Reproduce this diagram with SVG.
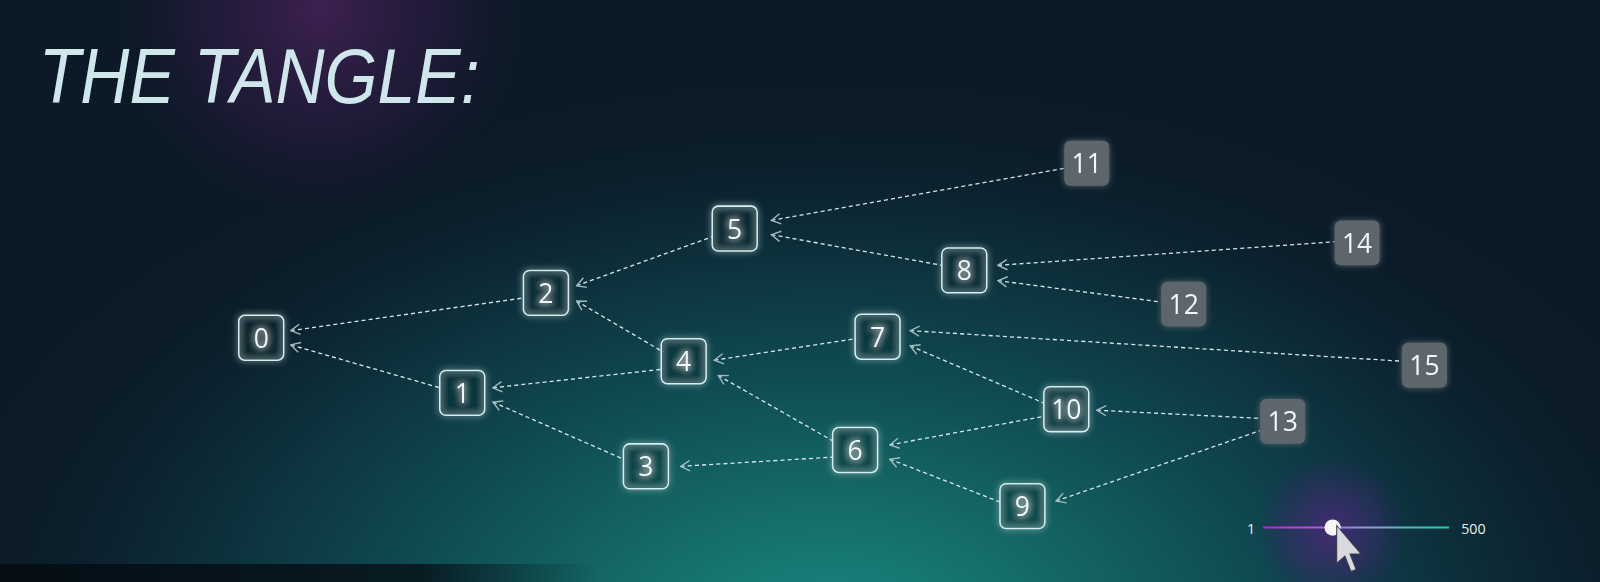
<svg xmlns="http://www.w3.org/2000/svg" width="1600" height="582" viewBox="0 0 1600 582">
<defs>
<radialGradient id="teal" cx="830" cy="640" r="900" gradientUnits="userSpaceOnUse" gradientTransform="translate(830 640) scale(1 0.62) translate(-830 -640)">
<stop offset="0" stop-color="#1b8a82"/>
<stop offset="0.25" stop-color="#146a66"/>
<stop offset="0.5" stop-color="#0f4850"/>
<stop offset="0.75" stop-color="#0c2a36"/>
<stop offset="1" stop-color="#0b1b28" stop-opacity="0"/>
</radialGradient>
<radialGradient id="purple" cx="320" cy="10" r="210" gradientUnits="userSpaceOnUse">
<stop offset="0" stop-color="#3f2152" stop-opacity="0.95"/>
<stop offset="0.6" stop-color="#2a1a40" stop-opacity="0.6"/>
<stop offset="1" stop-color="#1a1530" stop-opacity="0"/>
</radialGradient>
<radialGradient id="knobglow" cx="1306" cy="520" r="75" gradientUnits="userSpaceOnUse">
<stop offset="0" stop-color="#4a2a7a" stop-opacity="0.9"/>
<stop offset="0.6" stop-color="#3a2a6a" stop-opacity="0.5"/>
<stop offset="1" stop-color="#302060" stop-opacity="0"/>
</radialGradient>
<linearGradient id="slider" x1="1238" y1="0" x2="1420" y2="0" gradientUnits="userSpaceOnUse">
<stop offset="0" stop-color="#c21fd6"/>
<stop offset="0.35" stop-color="#a070d0"/>
<stop offset="0.6" stop-color="#8aa0d8"/>
<stop offset="1" stop-color="#1fd0a0"/>
</linearGradient>
<linearGradient id="bar" x1="0" y1="0" x2="600" y2="0" gradientUnits="userSpaceOnUse">
<stop offset="0" stop-color="#050d14"/>
<stop offset="0.7" stop-color="#07161e" stop-opacity="0.9"/>
<stop offset="1" stop-color="#0a2a30" stop-opacity="0"/>
</linearGradient>
<filter id="glow" x="-50%" y="-50%" width="200%" height="200%">
<feGaussianBlur stdDeviation="3" result="b"/>
<feMerge><feMergeNode in="b"/><feMergeNode in="SourceGraphic"/></feMerge>
</filter>
<marker id="arr" viewBox="0 0 12 12" refX="1" refY="6" markerWidth="12" markerHeight="12" markerUnits="userSpaceOnUse" orient="auto">
<path d="M10 1 L1 6 L10 11" fill="none" stroke="#9fb8bc" stroke-width="1.4"/>
</marker>
<style>
.edge{fill:none;stroke:#d4e6e8;stroke-width:1.3;stroke-dasharray:4 3;marker-start:url(#arr)}
.box{fill:#0d2a33;fill-opacity:0.25;stroke:#d6eef0;stroke-width:1.5}
.gbox{fill:#5d666d}
.lbl{font-family:"Open Sans","Noto Sans",sans-serif;font-size:26px;fill:#f2f7f8;text-anchor:middle;dominant-baseline:central}
.sl{font-family:"Open Sans","Noto Sans",sans-serif;font-size:14px;fill:#e6eef0}
</style>
</defs>
<rect width="1600" height="582" fill="#0b1a26"/>
<rect width="1600" height="582" fill="url(#teal)"/>
<rect width="1600" height="582" fill="url(#purple)"/>
<rect x="0" y="564" width="610" height="18" fill="url(#bar)"/>
<g transform="scale(1.0204)">
<text x="38" y="101" font-family="'Liberation Sans',Arial,sans-serif" font-style="italic" font-size="76" fill="#cfe6ea" textLength="432" lengthAdjust="spacingAndGlyphs">THE TANGLE:</text>

<g id="connectors">
<path class="edge" d="M285 324 L513 292"/>
<path class="edge" d="M285 338 L431 380"/>
<path class="edge" d="M565 280 L698 232"/>
<path class="edge" d="M565 295 L650 345"/>
<path class="edge" d="M483 380 L648 362"/>
<path class="edge" d="M483 394 L611 450"/>
<path class="edge" d="M756 216 L1043 165"/>
<path class="edge" d="M756 230 L923 260"/>
<path class="edge" d="M978 260 L1308 237"/>
<path class="edge" d="M978 275 L1138 296"/>
<path class="edge" d="M700 353 L838 332"/>
<path class="edge" d="M704 368 L816 432"/>
<path class="edge" d="M892 324 L1374 354"/>
<path class="edge" d="M892 339 L1023 395"/>
<path class="edge" d="M667 457 L816 448"/>
<path class="edge" d="M872 436 L1023 408"/>
<path class="edge" d="M872 450 L980 492"/>
<path class="edge" d="M1075 402 L1235 410"/>
<path class="edge" d="M1035 491 L1235 422"/>
</g>

<g id="n0" filter="url(#glow)"><rect class="box" x="234" y="309" width="44" height="44" rx="6"/><text class="lbl" x="256" y="331">0</text></g>
<g id="n1" filter="url(#glow)"><rect class="box" x="431" y="363" width="44" height="44" rx="6"/><text class="lbl" x="453" y="385">1</text></g>
<g id="n2" filter="url(#glow)"><rect class="box" x="513" y="265" width="44" height="44" rx="6"/><text class="lbl" x="535" y="287">2</text></g>
<g id="n3" filter="url(#glow)"><rect class="box" x="611" y="435" width="44" height="44" rx="6"/><text class="lbl" x="633" y="457">3</text></g>
<g id="n4" filter="url(#glow)"><rect class="box" x="648" y="332" width="44" height="44" rx="6"/><text class="lbl" x="670" y="354">4</text></g>
<g id="n5" filter="url(#glow)"><rect class="box" x="698" y="202" width="44" height="44" rx="6"/><text class="lbl" x="720" y="224">5</text></g>
<g id="n6" filter="url(#glow)"><rect class="box" x="816" y="419" width="44" height="44" rx="6"/><text class="lbl" x="838" y="441">6</text></g>
<g id="n7" filter="url(#glow)"><rect class="box" x="838" y="308" width="44" height="44" rx="6"/><text class="lbl" x="860" y="330">7</text></g>
<g id="n8" filter="url(#glow)"><rect class="box" x="923" y="243" width="44" height="44" rx="6"/><text class="lbl" x="945" y="265">8</text></g>
<g id="n9" filter="url(#glow)"><rect class="box" x="980" y="474" width="44" height="44" rx="6"/><text class="lbl" x="1002" y="496">9</text></g>
<g id="n10" filter="url(#glow)"><rect class="box" x="1023" y="379" width="44" height="44" rx="6"/><text class="lbl" x="1045" y="401">10</text></g>
<g id="n11" filter="url(#glow)"><rect class="gbox" x="1043" y="138" width="44" height="44" rx="6"/><text class="lbl" x="1065" y="160">11</text></g>
<g id="n12" filter="url(#glow)"><rect class="gbox" x="1138" y="276" width="44" height="44" rx="6"/><text class="lbl" x="1160" y="298">12</text></g>
<g id="n13" filter="url(#glow)"><rect class="gbox" x="1235" y="391" width="44" height="44" rx="6"/><text class="lbl" x="1257" y="413">13</text></g>
<g id="n14" filter="url(#glow)"><rect class="gbox" x="1308" y="216" width="44" height="44" rx="6" fill="#6e767c"/><text class="lbl" x="1330" y="238">14</text></g>
<g id="n15" filter="url(#glow)"><rect class="gbox" x="1374" y="336" width="44" height="44" rx="6"/><text class="lbl" x="1396" y="358">15</text></g>

<g id="slider">
<circle cx="1306" cy="520" r="75" fill="url(#knobglow)"/>
<text class="sl" x="1226" y="523" text-anchor="middle">1</text>
<line x1="1238" y1="517" x2="1420" y2="517" stroke="url(#slider)" stroke-width="2"/>
<circle cx="1306" cy="517" r="8" fill="#f4f6f8"/>
<text class="sl" x="1432" y="523">500</text>
<path d="M1310 515 L1310 552 L1318 545 L1324 560 L1329 558 L1323 543 L1334 543 Z" fill="#d8dade" stroke="#3a3a4a" stroke-width="1"/>
</g>
</g>
</svg>
